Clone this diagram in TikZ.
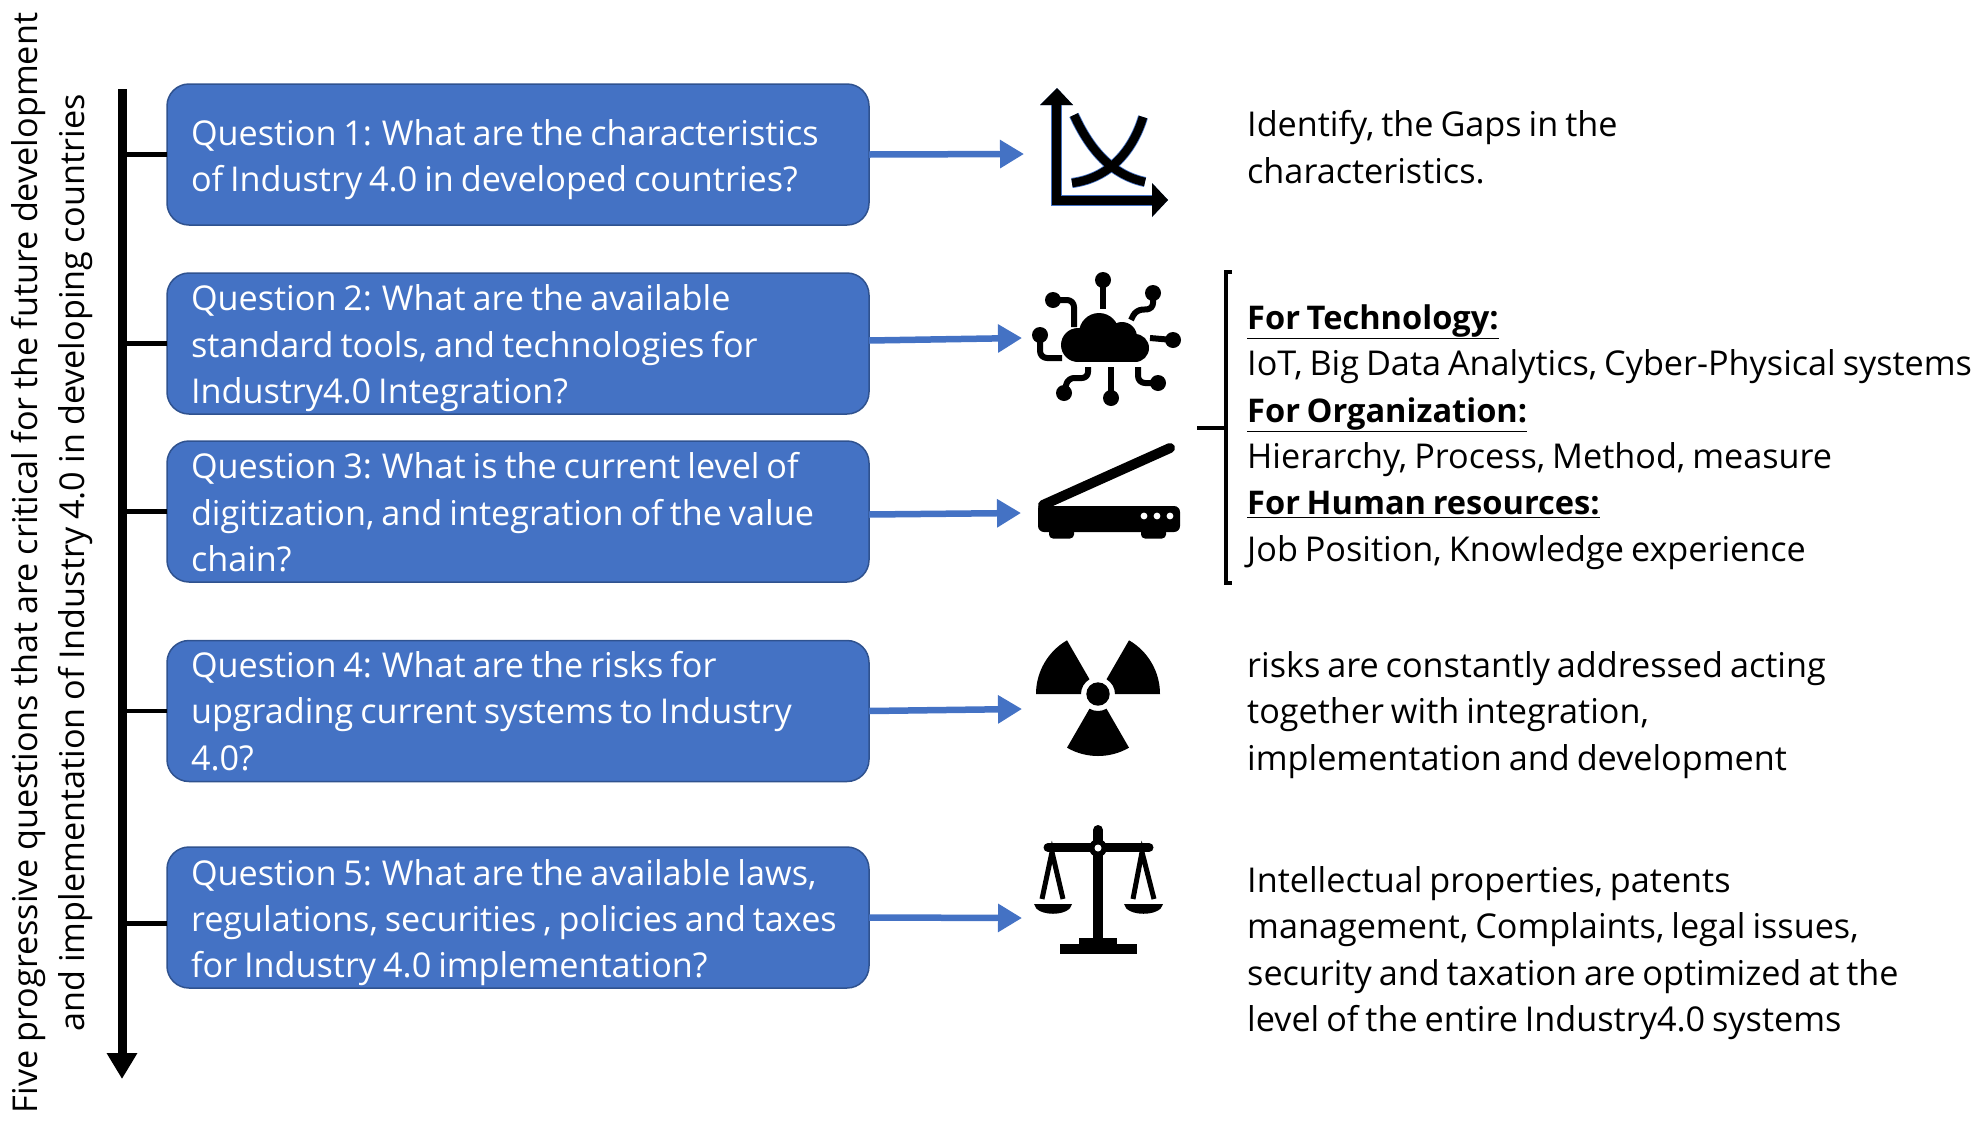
\documentclass[tikz,border=0pt]{standalone}
\usepackage{fontspec}
\setmainfont{Open Sans}[WordSpace=0.78]
\newfontfamily\sidefont{Open Sans}[WordSpace=0.9]
\usetikzlibrary{arrows.meta,calc}
\definecolor{qblue}{HTML}{4472C4}
\definecolor{qedge}{HTML}{2F528F}
\newcommand{\qsize}{\fontsize{34.2}{46.4}\selectfont}
\newcommand{\hd}[1]{\underline{{\fontsize{32.6}{46.4}\selectfont\textbf{#1}}}}
\tikzset{
 qbox/.style={draw=qedge,line width=1.5pt,fill=qblue,rounded corners=22pt,text=white,font=\qsize,
   text width=654pt,align=flush left,inner xsep=24pt,inner ysep=0pt,minimum height=141pt,outer sep=0pt},
 nudge/.style={execute at begin node={\rule{0pt}{#1}}},
 note/.style={font=\qsize,text width=730pt,align=flush left,anchor=west,inner sep=0pt,text=black},
 side/.style={font=\sidefont\qsize,align=center,rotate=90,inner sep=0pt,text=black},
 spine/.style={line width=9pt,-{Triangle[length=26pt,width=29pt]}},
 tick/.style={line width=4.5pt},
 flow/.style={draw=qblue,line width=6.5pt,-{Triangle[length=24pt,width=27pt]}},
 bracket/.style={line width=3.5pt},
 ink/.style={line width=6pt,line cap=butt,line join=round},
}
\begin{document}
\begin{tikzpicture}[x=1pt,y=-1pt]
\useasboundingbox (0,0) rectangle (1983,1122);
\node[side] (title) at (52,563) {Five progressive questions that are critical for the future development\\and implementation of Industry 4.0 in developing countries};
\coordinate (top) at (122,89);
\coordinate (bot) at (122,1079);
\draw[spine] (top) -- (bot);
\node[qbox,nudge=36pt] (q1) at (518,154.5) {Question 1: What are the characteristics\\of Industry 4.0 in developed countries?};
\node[qbox,nudge=36pt] (q2) at (518,343.5) {Question 2: What are the available\\standard tools, and technologies for\\Industry4.0 Integration?};
\node[qbox,nudge=28pt] (q3) at (518,511.5) {Question 3: What is the current level of\\digitization, and integration of the value\\chain?};
\node[qbox] (q4) at (518,711) {Question 4: What are the risks for\\upgrading current systems to Industry\\4.0?};
\node[qbox,nudge=36pt] (q5) at (518,917.5) {Question 5: What are the available laws,\\regulations, securities , policies and taxes\\for Industry 4.0 implementation?};
\foreach \q in {q1,q2,q3,q4}{\draw[tick] (\q.west) -- (\q.west -| top);}
\draw[tick] ([yshift=-6pt]q5.west) -- ([yshift=-6pt]q5.west -| top);
\coordinate (t1) at (1024,154);
\coordinate (t2) at (1022,338);
\coordinate (t3) at (1021,513);
\coordinate (t4) at (1022,709);
\coordinate (t5) at (1022,918);
\draw[flow] (q1.east) -- (t1);
\draw[flow] ([yshift=3pt]q2.east) -- (t2);
\draw[flow] ([yshift=-3pt]q3.east) -- (t3);
\draw[flow] (q4.east) -- (t4);
\draw[flow] (q5.east) -- (t5);
\node[note] (n1) at (1247,147) {Identify, the Gaps in the\\characteristics.};
\node[note] (n2) at (1247,437) {\hd{For Technology:}\\IoT, Big Data Analytics, Cyber-Physical systems\\\hd{For Organization:}\\Hierarchy, Process, Method, measure\\\hd{For Human resources:}\\Job Position, Knowledge experience};
\node[note] (n4) at (1247,715) {risks are constantly addressed acting\\together with integration,\\implementation and development};
\node[note] (n5) at (1247,953) {Intellectual properties, patents\\management, Complaints, legal issues,\\security and taxation are optimized at the\\level of the entire Industry4.0 systems};
\coordinate (bt) at (1232,272);
\coordinate (bb) at (1232,583);
\coordinate (bm) at (1197,428);
\draw[bracket] (bt) -- (bt -| 1226,0) -- (bb -| 1226,0) -- (bb);
\draw[bracket] (bm) -- (bm -| 1226,0);
% graph icon
\foreach \c/\w in {qblue/1.6,black/0}{
 \draw[\c,line width=8.5pt+\w pt] (1056.5,100) -- (1056.5,200.5) -- (1156,200.5);
 \draw[\c,line width=8.5pt+\w pt] (1074,115) .. controls (1090,150) and (1112,175) .. (1145,182);
 \draw[\c,line width=8.5pt+\w pt] (1072,183) .. controls (1110,178) and (1133,150) .. (1143,117);
 \fill[\c] (1057,88) -- (1073,105) -- (1040,105) -- cycle;
 \fill[\c] (1168,200) -- (1152,217) -- (1152,183) -- cycle;}
% cloud icon
\fill[black] (1099,333) circle (20);
\fill[black] (1122,337) circle (15);
\fill[black] (1078,345) circle (17);
\fill[black] (1135,348) circle (14);
\fill[black] (1078,335) rectangle (1135,362);
\foreach \p/\q in {1103/280,1153/293,1173/340,1158/383,1111/398,1064/393,1040/335,1053/300}{\fill[black] (\p,\q) circle (8);}
\draw[ink] (1103,280) -- (1103,309);
\draw[ink,rounded corners=6pt] (1153,293) -- (1153,309) -- (1136,310) -- (1131,320);
\draw[ink] (1173,340) -- (1150,338);
\draw[ink,rounded corners=7pt] (1138,367) -- (1138,383) -- (1158,383);
\draw[ink] (1111,398) -- (1111,367);
\draw[ink,rounded corners=6pt] (1088,367) -- (1088,378) -- (1068,378) -- (1064,393);
\draw[ink,rounded corners=7pt] (1040,335) -- (1040,358) -- (1062,358);
\draw[ink,rounded corners=7pt] (1053,300) -- (1074,300) -- (1074,327);
% scanner icon
\draw[black,line width=10pt,line cap=round] (1043,505) -- (1170,448);
\fill[black,rounded corners=6pt] (1038,503) -- (1038,532) -- (1180,532) -- (1180,506) -- (1048,506) -- (1048,500) -- cycle;
\fill[black,rounded corners=4pt] (1049,525) rectangle (1074,538.5);
\fill[black,rounded corners=4pt] (1141,525) rectangle (1166,538.5);
\foreach \p in {1144,1157,1170}{\fill[white] (\p,516) circle (3.4);}
% radiation icon
\fill[black] (1098,694) circle (11.7);
\foreach \a in {0,120,240}{
 \fill[black] ($(1098,694)+(\a:62 and -62)$) arc[start angle=\a,end angle=\a+60,x radius=62,y radius=-62]
   -- ($(1098,694)+(\a+60:17 and -17)$) arc[start angle=\a+60,end angle=\a,x radius=17,y radius=-17] -- cycle;}
% scales icon
\draw[black,line width=10pt,line cap=round] (1098,830) -- (1098,850);
\fill[black] (1093,845) rectangle (1103,940);
\draw[black,line width=9pt,line cap=round] (1048,847.5) -- (1149,847.5);
\fill[black] (1098,848) circle (9);
\fill[white] (1098,848) circle (3.5);
\draw[black,line width=5pt] (1042,899) -- (1052,852) -- (1063,899);
\draw[black,line width=5pt] (1133,899) -- (1142,852) -- (1154,899);
\fill[black] (1034,904) -- (1072,904) .. controls (1070,917) and (1036,917) .. (1034,904) -- cycle;
\fill[black] (1124,904) -- (1163,904) .. controls (1161,917) and (1126,917) .. (1124,904) -- cycle;
\fill[black] (1060,944) rectangle (1137,954);
\fill[black] (1079,938) rectangle (1117,945);
\end{tikzpicture}
\end{document}
